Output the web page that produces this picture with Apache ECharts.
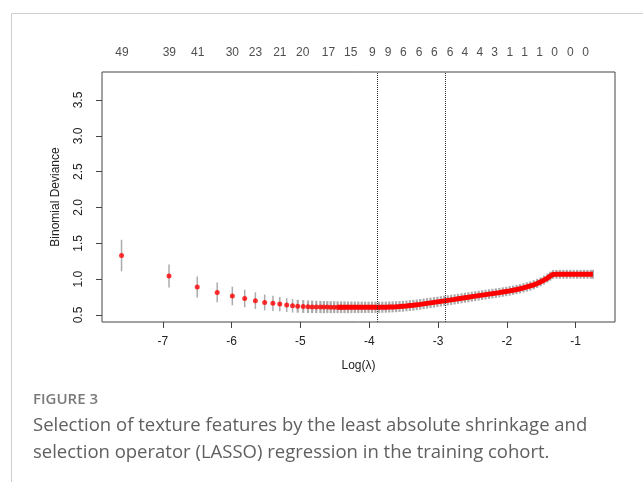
<!DOCTYPE html>
<html>
<head>
<meta charset="utf-8">
<script src="https://cdn.jsdelivr.net/npm/echarts@6/dist/echarts.min.js"></script>
<style>
  html, body { margin: 0; padding: 0; background: #fff; }
  #main { width: 643px; height: 482px; }
</style>
</head>
<body>
<div id="main"></div>
<script>
// first lambdas, drawn as separate dots with error bars
var sparseLog  = [-7.60, -6.91, -6.50, -6.21, -5.99, -5.81, -5.655, -5.52, -5.40, -5.30, -5.20, -5.115];
var sparseMean = [1.33, 1.045, 0.89, 0.815, 0.765, 0.73, 0.70, 0.675, 0.662, 0.652, 0.638, 0.628];
var sparseHalf = [0.22, 0.16, 0.147, 0.138, 0.13, 0.122, 0.116, 0.11, 0.105, 0.10, 0.097, 0.094];

// dense part of the cv curve
var denseLog = [-5.04, -4.96, -4.89, -4.83, -4.77, -4.71, -4.66, -4.61, -4.56, -4.51,
  -4.46, -4.41, -4.36, -4.31, -4.26, -4.21, -4.16, -4.11, -4.06, -4.01,
  -3.96, -3.91, -3.86, -3.81, -3.76, -3.71, -3.66, -3.61, -3.56, -3.51,
  -3.46, -3.41, -3.36, -3.31, -3.26, -3.21, -3.16, -3.11, -3.06, -3.01,
  -2.96, -2.91, -2.86, -2.81, -2.76, -2.71, -2.66, -2.61, -2.56, -2.51,
  -2.46, -2.41, -2.36, -2.31, -2.26, -2.21, -2.16, -2.11, -2.06, -2.01,
  -1.96, -1.91, -1.86, -1.81, -1.76, -1.71, -1.66, -1.61, -1.56, -1.51,
  -1.46, -1.41, -1.37, -1.33, -1.28, -1.23, -1.18, -1.13, -1.08, -1.03,
  -0.98, -0.93, -0.88, -0.83, -0.78, -0.75];
var denseMean = [0.622, 0.618, 0.615, 0.613, 0.612, 0.611, 0.610, 0.610, 0.609, 0.609,
  0.608, 0.608, 0.608, 0.607, 0.607, 0.607, 0.607, 0.607, 0.607, 0.607,
  0.607, 0.607, 0.607, 0.608, 0.609, 0.611, 0.613, 0.615, 0.618, 0.622,
  0.626, 0.631, 0.636, 0.642, 0.648, 0.655, 0.662, 0.669, 0.676, 0.683,
  0.690, 0.697, 0.704, 0.711, 0.718, 0.726, 0.733, 0.741, 0.748, 0.756,
  0.763, 0.770, 0.777, 0.784, 0.791, 0.798, 0.805, 0.812, 0.820, 0.828,
  0.836, 0.845, 0.855, 0.866, 0.878, 0.891, 0.905, 0.921, 0.940, 0.962,
  0.987, 1.015, 1.042, 1.066, 1.068, 1.068, 1.068, 1.068, 1.068, 1.068,
  1.068, 1.068, 1.068, 1.068, 1.068, 1.068];
var denseHalf = [0.09, 0.089, 0.088, 0.087, 0.086, 0.085, 0.085, 0.084, 0.084, 0.083,
  0.083, 0.082, 0.082, 0.081, 0.081, 0.080, 0.080, 0.080, 0.079, 0.079,
  0.079, 0.078, 0.078, 0.078, 0.077, 0.077, 0.077, 0.076, 0.076, 0.076,
  0.075, 0.075, 0.075, 0.074, 0.074, 0.074, 0.073, 0.073, 0.073, 0.072,
  0.072, 0.072, 0.071, 0.071, 0.071, 0.070, 0.070, 0.070, 0.069, 0.069,
  0.069, 0.068, 0.068, 0.068, 0.067, 0.067, 0.067, 0.066, 0.066, 0.066,
  0.066, 0.065, 0.065, 0.065, 0.065, 0.064, 0.064, 0.064, 0.064, 0.063,
  0.063, 0.063, 0.063, 0.062, 0.062, 0.062, 0.062, 0.062, 0.062, 0.062,
  0.062, 0.062, 0.062, 0.062, 0.062, 0.062];

// number of nonzero coefficients along the top
var topPos = [-7.593, -6.906, -6.493, -5.99, -5.655, -5.30, -4.968, -4.594, -4.27, -3.955,
  -3.725, -3.506, -3.276, -3.056, -2.826, -2.612, -2.392, -2.178, -1.958, -1.744,
  -1.524, -1.308, -1.078, -0.858];
var topLabels = ['49', '39', '41', '30', '23', '21', '20', '17', '15', '9',
  '9', '6', '6', '6', '6', '4', '4', '3', '1', '1',
  '1', '0', '0', '0'];

var xTicks = [-7, -6, -5, -4, -3, -2, -1];
var yTicks = [0.5, 1.0, 1.5, 2.0, 2.5, 3.0, 3.5];
var lambdaMin = -3.88;
var lambda1se = -2.90;

var xMin = -7.884, xMax = -0.429;
var yMin = 0.402, yMax = 3.891;

var myChart = echarts.init(document.getElementById('main'));

var sparseBars = sparseLog.map(function (x, i) {
  return [x, sparseMean[i] - sparseHalf[i], sparseMean[i] + sparseHalf[i]];
});
var denseBars = denseLog.map(function (x, i) {
  return [x, denseMean[i] - denseHalf[i], denseMean[i] + denseHalf[i]];
});
var densePts = denseLog.map(function (x, i) { return [x, denseMean[i]]; });
// separate dots where the lambdas are still apart, a thick line where they merge
var dots = sparseLog.map(function (x, i) { return [x, sparseMean[i]]; })
  .concat(densePts.filter(function (d) { return d[0] < -4.4; }));
var lineDots = densePts.filter(function (d) { return d[0] > -4.5; });

function barRenderer(width) {
  return function (params, api) {
    var p1 = api.coord([api.value(0), api.value(1)]);
    var p2 = api.coord([api.value(0), api.value(2)]);
    return {
      type: 'line',
      shape: { x1: p1[0], y1: p1[1], x2: p2[0], y2: p2[1] },
      style: { stroke: '#ababab', lineWidth: width }
    };
  };
}

var axisFont = { fontFamily: 'Liberation Sans', fontSize: 12, color: '#222' };

var option = {
  animation: false,
  grid: { left: 102, right: 28, top: 72, bottom: 160, show: true, borderColor: '#444', borderWidth: 1 },
  xAxis: {
    type: 'value', min: xMin, max: xMax,
    name: 'Log(λ)', nameLocation: 'middle', nameGap: 38,
    nameTextStyle: axisFont,
    axisLine: { show: false },
    axisTick: { show: true, length: 6, customValues: xTicks, lineStyle: { color: '#444' } },
    axisLabel: Object.assign({ customValues: xTicks, margin: 14 }, axisFont),
    splitLine: { show: false }
  },
  yAxis: {
    type: 'value', min: yMin, max: yMax,
    name: 'Binomial Deviance', nameLocation: 'middle', nameGap: 40,
    nameTextStyle: axisFont,
    axisLine: { show: false },
    axisTick: { show: true, length: 6, customValues: yTicks, lineStyle: { color: '#444' } },
    axisLabel: Object.assign({
      customValues: yTicks, rotate: 90, margin: 17,
      formatter: function (v) { return v.toFixed(1); }
    }, axisFont),
    splitLine: { show: false }
  },
  series: [
    {
      type: 'custom', renderItem: barRenderer(1.5), data: sparseBars,
      encode: { x: 0, y: [1, 2] }, silent: true, z: 1
    },
    {
      type: 'custom', renderItem: barRenderer(2.2), data: denseBars,
      encode: { x: 0, y: [1, 2] }, silent: true, z: 1
    },
    {
      type: 'line', data: lineDots, showSymbol: false, silent: true, z: 2,
      lineStyle: { color: '#ff0000', width: 5 }
    },
    {
      type: 'scatter', data: dots, symbolSize: 5, silent: true, z: 3,
      itemStyle: { color: '#ff0000' },
      markLine: {
        silent: true, symbol: 'none', label: { show: false },
        lineStyle: { type: 'dotted', color: '#333', width: 1 },
        data: [{ xAxis: lambdaMin }, { xAxis: lambda1se }]
      }
    },
    {
      type: 'scatter', silent: true, symbolSize: 0,
      data: topPos.map(function (x, i) { return { value: [x, yMax], name: topLabels[i] }; }),
      label: {
        show: true, position: 'top', distance: 13,
        formatter: function (p) { return p.name; },
        fontFamily: 'Liberation Sans', fontSize: 12, color: '#222'
      }
    }
  ],
  graphic: [
    {
      type: 'polyline', silent: true,
      shape: { points: [[11.5, 482], [11.5, 13.5], [643, 13.5]] },
      style: { stroke: '#cfcfcf', lineWidth: 1, fill: null }
    },
    {
      type: 'text', left: 33, top: 392, silent: true,
      style: { text: 'FIGURE 3', fontFamily: 'Open Sans', fontSize: 15, fontWeight: 600, fill: '#7a7a7a' }
    },
    {
      type: 'text', left: 33, top: 412, silent: true,
      style: {
        text: 'Selection of texture features by the least absolute shrinkage and\nselection operator (LASSO) regression in the training cohort.',
        fontFamily: 'Open Sans', fontSize: 18.5, lineHeight: 27, fill: '#606060'
      }
    }
  ]
};

myChart.setOption(option);
</script>
</body>
</html>
